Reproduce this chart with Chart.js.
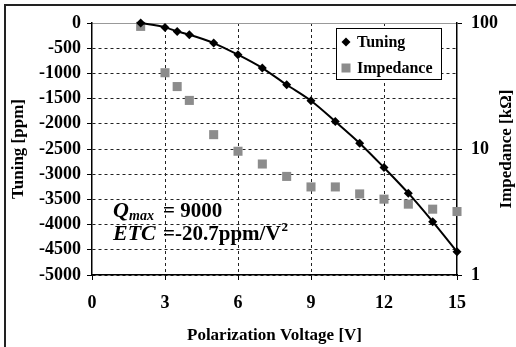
<!DOCTYPE html>
<html>
<head>
<meta charset="utf-8">
<script src="https://cdn.jsdelivr.net/npm/chart.js@4.4.0/dist/chart.umd.min.js"></script>
<style>
  html, body { margin: 0; padding: 0; background: #fff; }
  #wrap { width: 516px; height: 347px; }
</style>
</head>
<body>
<div id="wrap"><canvas id="myChart" width="516" height="347"></canvas></div>
<script>
// values
const voltage = [2, 3, 3.5, 4, 5, 6, 7, 8, 9, 10, 11, 12, 13, 14, 15];
const tuning = [0, -87, -167, -233, -398, -630, -894, -1226, -1544, -1955, -2384, -2868, -3377, -3941, -4537];
const impedance = [94, 40.3, 31.3, 24.3, 13.0, 9.6, 7.6, 6.06, 5.0, 5.0, 4.4, 4.0, 3.65, 3.33, 3.19];
const xTicks = [0, 3, 6, 9, 12, 15];
const impedanceTicks = [1, 10, 100];

const SERIF = '"Liberation Serif", "Times New Roman", serif';
const tickFont = { family: SERIF, size: 18, weight: 'bold' };
const titleFont = { family: SERIF, size: 17, weight: 'bold' };
const GRID = '#222';

// frame, right axis title, note text and legend box
const extras = {
    id: 'extras',
    afterDraw(chart) {
        const { ctx, chartArea } = chart;
        ctx.save();

        // outer frame (left + top only, the picture is cropped)
        ctx.strokeStyle = '#222';
        ctx.lineWidth = 2;
        ctx.beginPath();
        ctx.moveTo(5, 347);
        ctx.lineTo(5, 5);
        ctx.lineTo(516, 5);
        ctx.stroke();

        // right axis title, reading bottom to top
        ctx.fillStyle = '#000';
        ctx.font = 'bold 17px ' + SERIF;
        ctx.textAlign = 'center';
        ctx.textBaseline = 'middle';
        ctx.translate(507, (chartArea.top + chartArea.bottom) / 2);
        ctx.rotate(-Math.PI / 2);
        ctx.fillText('Impedance [k\u03A9]', 0, 0);
        ctx.setTransform(1, 0, 0, 1, 0, 0);

        // Q_max / ETC note
        const nx = chartArea.left + 21;
        const eqx = chartArea.left + 71;
        ctx.textAlign = 'left';
        ctx.textBaseline = 'alphabetic';
        ctx.font = 'italic bold 22px ' + SERIF;
        ctx.fillText('Q', nx, 217);
        ctx.font = 'italic bold 14px ' + SERIF;
        ctx.fillText('max', nx + 16, 220);
        ctx.font = 'bold 21px ' + SERIF;
        ctx.fillText('= 9000', eqx, 217);
        ctx.font = 'italic bold 22px ' + SERIF;
        ctx.fillText('ETC', nx, 240);
        ctx.font = 'bold 21px ' + SERIF;
        ctx.fillText('=-20.7ppm/V', eqx, 240);
        const w = ctx.measureText('=-20.7ppm/V').width;
        ctx.font = 'bold 13px ' + SERIF;
        ctx.fillText('2', eqx + w + 1, 231);

        // legend box
        const lx = chartArea.right - 121, ly = chartArea.top + 5;
        ctx.fillStyle = '#fff';
        ctx.fillRect(lx, ly, 105, 51);
        ctx.strokeStyle = '#000';
        ctx.lineWidth = 1;
        ctx.strokeRect(lx + 0.5, ly + 0.5, 105, 51);

        ctx.fillStyle = '#000';
        ctx.beginPath();
        ctx.moveTo(lx + 10 - 4.5, ly + 14);
        ctx.lineTo(lx + 10, ly + 14 - 4.5);
        ctx.lineTo(lx + 10 + 4.5, ly + 14);
        ctx.lineTo(lx + 10, ly + 14 + 4.5);
        ctx.closePath();
        ctx.fill();
        ctx.fillStyle = '#8c8c8c';
        ctx.fillRect(lx + 10 - 4.5, ly + 40 - 4.5, 9, 9);

        ctx.fillStyle = '#000';
        ctx.font = 'bold 16px ' + SERIF;
        ctx.textBaseline = 'middle';
        ctx.fillText('Tuning', lx + 21, ly + 15);
        ctx.fillText('Impedance', lx + 21, ly + 41);

        ctx.restore();
    }
};

const ctx = document.getElementById('myChart').getContext('2d');

const chart = new Chart(ctx, {
    type: 'line',
    data: {
        datasets: [{
            label: 'Tuning',
            data: voltage.map((v, i) => ({ x: v, y: tuning[i] })),
            yAxisID: 'y',
            borderColor: '#000',
            backgroundColor: '#000',
            borderWidth: 2,
            pointStyle: 'rectRot',
            pointRadius: 4.5,
            pointBorderWidth: 0,
            cubicInterpolationMode: 'monotone',
            fill: false,
            clip: 10,
            order: 0
        }, {
            label: 'Impedance',
            data: voltage.map((v, i) => ({ x: v, y: impedance[i] })),
            yAxisID: 'y2',
            showLine: false,
            borderColor: '#8c8c8c',
            backgroundColor: '#8c8c8c',
            pointStyle: 'rect',
            pointRadius: 6.4,
            pointBorderWidth: 0,
            clip: 10,
            order: 1
        }]
    },
    options: {
        responsive: false,
        animation: false,
        devicePixelRatio: 1,
        layout: { padding: 0 },
        plugins: {
            legend: { display: false },
            tooltip: { enabled: false }
        },
        scales: {
            x: {
                type: 'linear',
                position: 'bottom',
                min: 0,
                max: 15,
                afterBuildTicks: s => { s.ticks = xTicks.map(v => ({ value: v })); },
                afterFit: s => { s.height = 72; },
                ticks: { color: '#000', font: tickFont, padding: 13, callback: v => String(v) },
                grid: {
                    color: c => (c.tick && (c.tick.value === 0 || c.tick.value === 15)) ? 'rgba(0,0,0,0)' : GRID,
                    tickColor: '#000',
                    tickLength: 5,
                    lineWidth: 1
                },
                border: { color: '#000', width: 1.5, dash: [3, 3] },
                title: {
                    display: true,
                    text: 'Polarization Voltage [V]',
                    color: '#000',
                    font: titleFont,
                    padding: { top: 0, bottom: 1 }
                }
            },
            xTop: {
                type: 'linear',
                position: 'top',
                min: 0,
                max: 15,
                ticks: { display: false },
                grid: { drawOnChartArea: false, drawTicks: false },
                border: { color: '#999', width: 1 },
                afterFit: s => { s.height = 23; }
            },
            y: {
                type: 'linear',
                position: 'left',
                min: -5000,
                max: 0,
                afterFit: s => { s.width = 92; },
                ticks: { stepSize: 500, color: '#000', font: tickFont, padding: 6, callback: v => String(v) },
                grid: {
                    color: c => (c.tick && c.tick.value === 0) ? 'rgba(0,0,0,0)' : GRID,
                    tickColor: '#000',
                    tickLength: 5,
                    lineWidth: 1
                },
                border: { color: '#000', width: 1.5, dash: [3, 3] },
                title: {
                    display: true,
                    text: 'Tuning [ppm]',
                    color: '#000',
                    font: titleFont,
                    padding: { top: 8, bottom: 0 }
                }
            },
            y2: {
                type: 'logarithmic',
                position: 'right',
                min: 1,
                max: 100,
                afterBuildTicks: s => { s.ticks = impedanceTicks.map(v => ({ value: v, major: true })); },
                afterFit: s => { s.width = 59; },
                ticks: { color: '#000', font: tickFont, padding: 9, callback: v => String(v) },
                grid: { drawOnChartArea: false, tickColor: '#000', tickLength: 5 },
                border: { color: '#000', width: 1.5 }
            }
        }
    },
    plugins: [extras]
});
</script>
</body>
</html>
